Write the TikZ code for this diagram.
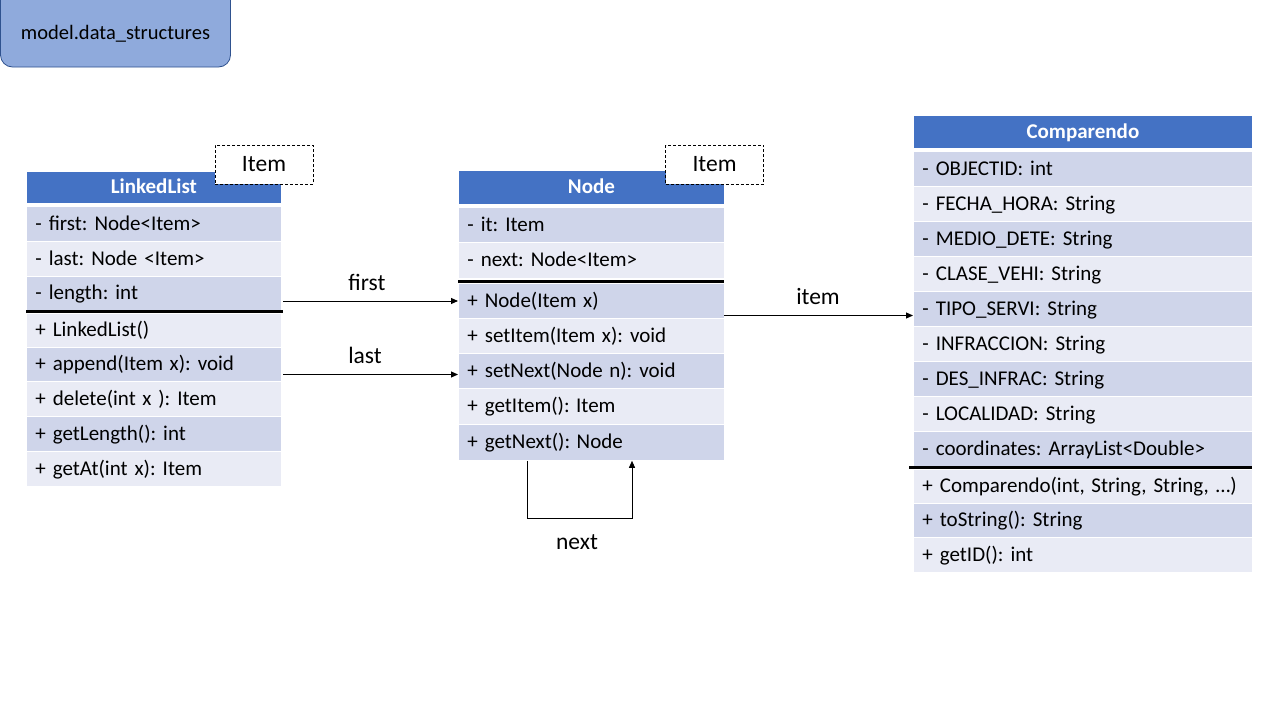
\documentclass[tikz,border=0pt]{standalone}
\usepackage{fontspec}
\setmainfont{Carlito}
\usetikzlibrary{arrows.meta}
\definecolor{hdr}{HTML}{4472C4}
\definecolor{rowA}{HTML}{CFD5EA}
\definecolor{rowB}{HTML}{E9EBF5}
\definecolor{pkgfill}{HTML}{8FAADC}
\definecolor{pkgline}{HTML}{2F528F}
\newcommand\dsp{\hspace{6.5pt}}
\begin{document}
\frenchspacing
\begin{tikzpicture}[x=1pt,y=-1pt,
  rowbase/.style={anchor=north west, draw=white, line width=0.8pt, inner xsep=9pt, inner ysep=0pt,
    font=\fontsize{21}{25}\selectfont, text height=17pt, text depth=4pt},
  llrow/.style={rowbase, align=left, text width=237pt, minimum width=255pt},
  ndrow/.style={rowbase, align=left, text width=248pt, minimum width=266pt},
  cprow/.style={rowbase, align=left, text width=321pt, minimum width=339pt},
  hdrbox/.style={fill=hdr, text=white, align=center, font=\fontsize{21}{25}\selectfont\bfseries},
  dashbox/.style={draw=black, dash pattern=on 3pt off 2pt, line width=0.8pt, fill=white,
    minimum width=98pt, minimum height=39pt, inner sep=0pt, font=\fontsize{23.5}{28}\selectfont},
  sep/.style={line width=3pt, black},
  arr/.style={-{Triangle[length=7pt,width=6pt]}, line width=0.9pt, black},
  lbl/.style={font=\fontsize{23.5}{28}\selectfont, inner sep=0pt}
]
\useasboundingbox (0,0) rectangle (1280,720);
\fill[white] (0,0) rectangle (1280,720);

% package tab
\draw[draw=pkgline, fill=pkgfill, rounded corners=12pt, line width=0.8pt] (0.5,-20) rectangle (230.5,67);
\node[font=\fontsize{20.5}{24}\selectfont] (pkg) at (115.5,34) {model.data\_structures};

% ---------- LinkedList ----------
\node[llrow, hdrbox, minimum height=32pt] (llH) at (26,171) {LinkedList};
\node[llrow, fill=rowA, minimum height=35pt] (ll1) at (26,206) {- first: Node<Item>};
\node[llrow, fill=rowB, minimum height=35pt] (ll2) at (26,241) {- last: Node <Item>};
\node[llrow, fill=rowA, minimum height=34pt] (ll3) at (26,276) {- length: int};
\node[llrow, fill=rowB, minimum height=34pt] (ll4) at (26,313) {+ LinkedList()};
\node[llrow, fill=rowA, minimum height=34pt] (ll5) at (26,347) {+ append(Item\dsp x): void};
\node[llrow, fill=rowB, minimum height=35pt] (ll6) at (26,381) {+ delete(int\dsp x ): Item};
\node[llrow, fill=rowA, minimum height=35pt] (ll7) at (26,416) {+ getLength(): int};
\node[llrow, fill=rowB, minimum height=35pt] (ll8) at (26,451) {+ getAt(int x): Item};
\draw[sep] (26,311.5) -- (283,311.5);
\node[dashbox] (llT) at (264,164.5) {Item};

% ---------- Node ----------
\node[ndrow, hdrbox, minimum height=34pt] (ndH) at (458,170) {Node};
\node[ndrow, fill=rowA, minimum height=35pt] (nd1) at (458,207) {- it: Item};
\node[ndrow, fill=rowB, minimum height=36pt] (nd2) at (458,242) {- next: Node<Item>};
\node[ndrow, fill=rowA, minimum height=35pt] (nd3) at (458,283) {+ Node(Item\dsp x)};
\node[ndrow, fill=rowB, minimum height=35pt] (nd4) at (458,318) {+ setItem(Item\dsp x): void};
\node[ndrow, fill=rowA, minimum height=35pt] (nd5) at (458,353) {+ setNext(Node\dsp n): void};
\node[ndrow, fill=rowB, minimum height=36pt] (nd6) at (458,388) {+ getItem():\dsp Item};
\node[ndrow, fill=rowA, minimum height=36pt] (nd7) at (458,424) {+ getNext():\dsp Node};
\draw[sep] (458,281) -- (724,281);
\node[dashbox] (ndT) at (714.5,164.5) {Item};

% ---------- Comparendo ----------
\node[cprow, hdrbox, minimum height=33pt] (cpH) at (913,115) {Comparendo};
\node[cprow, fill=rowA, minimum height=35pt] (cp1) at (913,151) {- OBJECTID: int};
\node[cprow, fill=rowB, minimum height=35pt] (cp2) at (913,186) {- FECHA\_HORA: String};
\node[cprow, fill=rowA, minimum height=35pt] (cp3) at (913,221) {- MEDIO\_DETE: String};
\node[cprow, fill=rowB, minimum height=35pt] (cp4) at (913,256) {- CLASE\_VEHI: String};
\node[cprow, fill=rowA, minimum height=35pt] (cp5) at (913,291) {- TIPO\_SERVI: String};
\node[cprow, fill=rowB, minimum height=35pt] (cp6) at (913,326) {- INFRACCION: String};
\node[cprow, fill=rowA, minimum height=35pt] (cp7) at (913,361) {- DES\_INFRAC: String};
\node[cprow, fill=rowB, minimum height=35pt] (cp8) at (913,396) {- LOCALIDAD: String};
\node[cprow, fill=rowA, minimum height=35pt] (cp9) at (913,431) {- coordinates: ArrayList<Double>};
\node[cprow, fill=rowB, minimum height=34pt] (cp10) at (913,469) {+ Comparendo(int,\dsp String, String, …)};
\node[cprow, fill=rowA, minimum height=34pt] (cp11) at (913,503) {+ toString(): String};
\node[cprow, fill=rowB, minimum height=35pt] (cp12) at (913,537) {+ getID(): int};
\draw[sep] (909,467.5) -- (1252,467.5);

% ---------- connectors ----------
\coordinate (fS) at (283,301);
\coordinate (lS) at (283,374.5);
\coordinate (iS) at (724,315.5);
\draw[arr] (fS) -- (fS -| nd3.west);
\draw[arr] (lS) -- (lS -| nd5.west);
\draw[arr] (iS) -- (iS -| cp5.west);
\draw[arr] (nd7.south west) ++(69,0) -- ++(0,58) -- ++(105,0) -- ++(0,-58);

\node[lbl] (lFirst) at (367,282) {first};
\node[lbl] (lLast) at (365,355) {last};
\node[lbl] (lItem) at (818,296) {item};
\node[lbl] (lNext) at (577,542) {next};
\end{tikzpicture}
\end{document}
